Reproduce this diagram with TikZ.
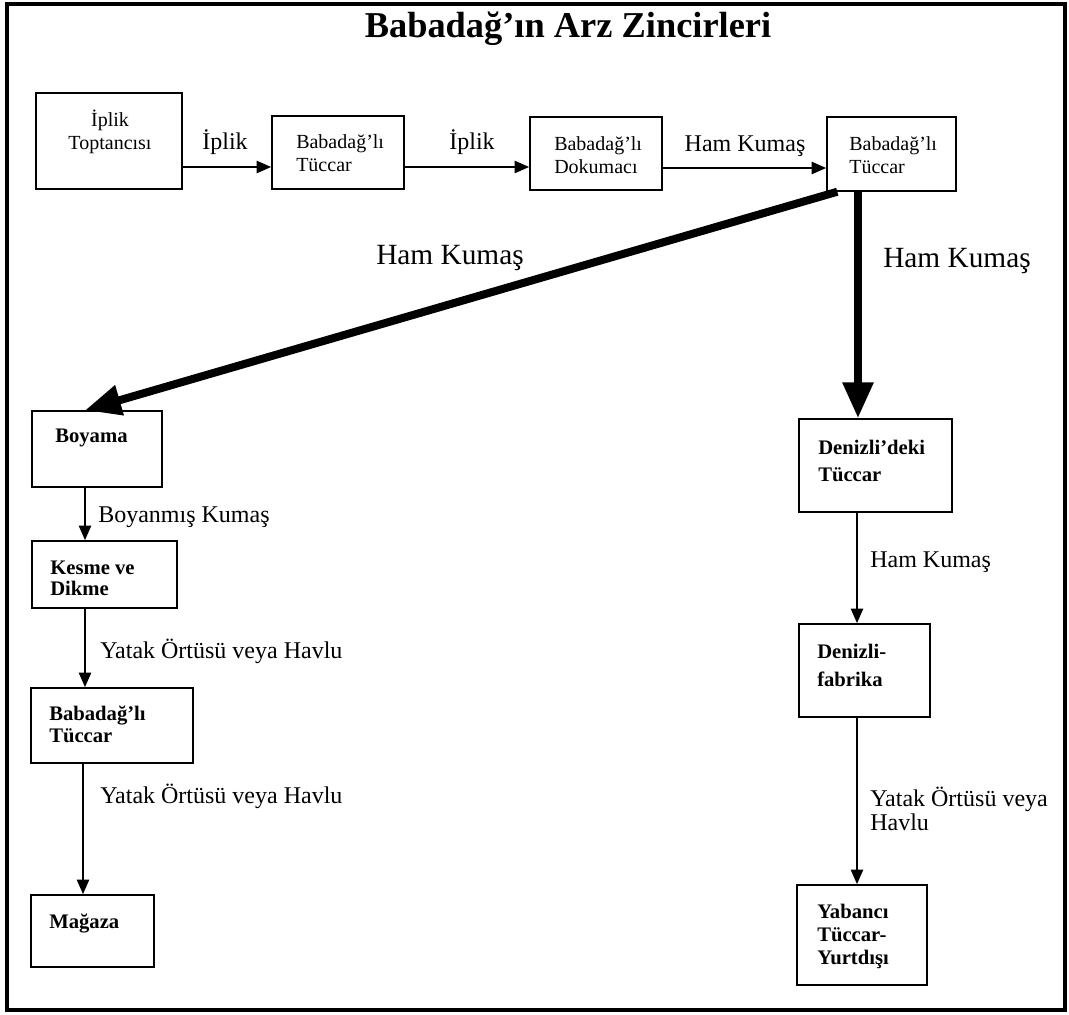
\documentclass[tikz,border=0pt]{standalone}
\usepackage{fontspec}
\setmainfont{Liberation Serif}
\usetikzlibrary{arrows.meta,calc,fit}
\begin{document}
\begin{tikzpicture}[x=0.75pt,y=-0.75pt,
  box/.style={draw, line width=1.1pt, inner sep=0pt},
  ttxt/.style={font=\fontsize{15}{17.5}\selectfont, align=left, inner sep=0pt, anchor=west},
  btxt/.style={font=\fontsize{15.5}{16.5}\selectfont\bfseries, align=left, inner sep=0pt, anchor=west},
  lbl/.style={font=\fontsize{18}{17.5}\selectfont, inner sep=0pt},
  big/.style={font=\fontsize{22}{26}\selectfont, inner sep=0pt},
  arr/.style={line width=1.9pt, -{Triangle[length=11pt,width=9pt]}},
  thk/.style={line width=6pt, -{Triangle[length=27pt,width=22pt]}}]
\useasboundingbox (0,0) rectangle (1069,1014);
\draw[line width=2.4pt] (7,4) rectangle (1065,1010);
\node[font=\fontsize{27.3}{30}\selectfont\bfseries, inner sep=0pt] (title) at (568,29) {Babadağ’ın Arz Zincirleri};
% top row
\node[box, fit={(36,93) (182,189)}] (b1) {};
\node[box, fit={(272,116) (404,189)}] (b2) {};
\node[box, fit={(530,117) (662,190)}] (b3) {};
\node[box, fit={(827,117) (956,191)}] (b4) {};
\node[ttxt, align=center, anchor=center] at (110,132) {İplik\\Toptancısı};
\node[ttxt] at (296,153) {Babadağ’lı\\Tüccar};
\node[ttxt] at (554,155) {Babadağ’lı\\Dokumacı};
\node[ttxt] at (849,155) {Babadağ’lı\\Tüccar};
\draw[arr] (b1.east |- 0,167) -- (b2.west |- 0,167);
\node[lbl, anchor=base] at (225,149) {İplik};
\draw[arr] (b2.east |- 0,167) -- (b3.west |- 0,167);
\node[lbl, anchor=base] at (472,149) {İplik};
\draw[arr] (b3.east |- 0,168) -- (b4.west |- 0,168);
\node[lbl, anchor=base] at (745,151) {Ham Kumaş};
% left column
\node[box, fit={(32,411) (162,487)}] (bo) {};
\node[box, fit={(32,541) (177,608)}] (km) {};
\node[box, fit={(31,688) (193,763)}] (bt) {};
\node[box, fit={(31,895) (154,967)}] (mg) {};
\node[btxt] at (55,438) {Boyama};
\node[btxt, font=\fontsize{15.5}{15.75}\selectfont\bfseries] at (50,578) {Kesme ve\\Dikme};
\node[btxt] at (49,724) {Babadağ’lı\\Tüccar};
\node[btxt] at (49,923) {Mağaza};
\draw[arr] (85,0 |- bo.south) -- (85,0 |- km.north);
\node[lbl, anchor=west] at (98,517) {Boyanmış Kumaş};
\draw[arr] (85,0 |- km.south) -- (85,0 |- bt.north);
\node[lbl, anchor=west] at (100,651) {Yatak Örtüsü veya Havlu};
\draw[arr] (83,0 |- bt.south) -- (83,0 |- mg.north);
\node[lbl, anchor=west] at (100,796) {Yatak Örtüsü veya Havlu};
% right column
\node[box, fit={(799,419) (952,512)}] (dt) {};
\node[box, fit={(799,624) (930,717)}] (df) {};
\node[box, fit={(797,885) (927,985)}] (yt) {};
\node[btxt, font=\fontsize{15.5}{20}\selectfont\bfseries] at (818,461) {Denizli’deki\\Tüccar};
\node[btxt, font=\fontsize{15.5}{21}\selectfont\bfseries] at (817,665) {Denizli-\\fabrika};
\node[btxt, font=\fontsize{15.5}{17.25}\selectfont\bfseries] at (817,936) {Yabancı\\Tüccar-\\Yurtdışı};
\draw[arr] (857,0 |- dt.south) -- (857,0 |- df.north);
\node[lbl, anchor=west] at (870,562) {Ham Kumaş};
\draw[arr] (857,0 |- df.south) -- (857,0 |- yt.north);
\node[lbl, anchor=west, align=left] at (870,809) {Yatak Örtüsü veya\\Havlu};
% thick arrows
\draw[thk] ($(b4.south west)+(11,0)$) -- (85,0 |- bo.north);
\node[big] at (450,258) {Ham Kumaş};
\draw[thk] (858,0 |- b4.south) -- (858,0 |- dt.north);
\node[big] at (957,261) {Ham Kumaş};
\end{tikzpicture}
\end{document}
